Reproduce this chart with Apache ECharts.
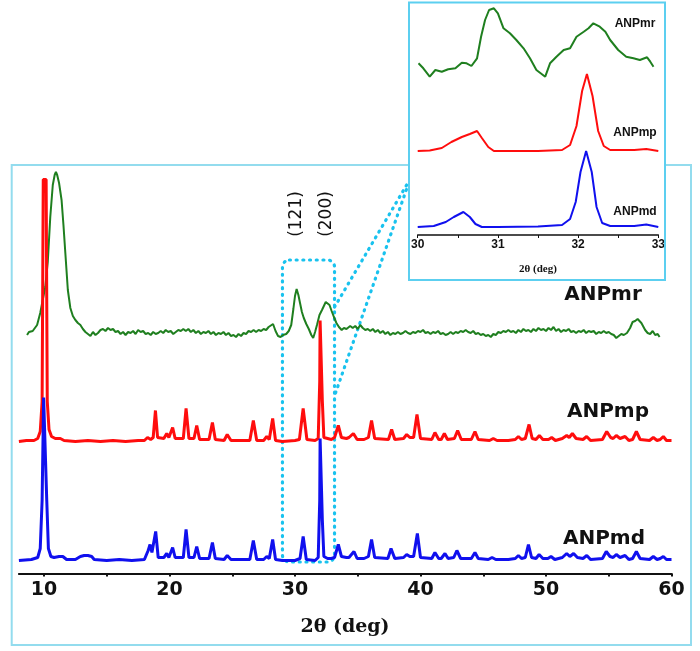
<!DOCTYPE html>
<html><head><meta charset="utf-8">
<script src="https://cdn.jsdelivr.net/npm/echarts@6/dist/echarts.min.js"></script>
<style>html,body{margin:0;padding:0;background:#fff}#c{width:700px;height:651px}</style>
</head><body><div id="c"></div>
<script>
// ---------- data (2θ in degrees, intensity in arbitrary offset units) ----------
const mainTickValues = [10,15,20,25,30,35,40,45,50,55,60];
const mainLabelValues = [10,20,30,40,50,60];
const insetTickValues = [30,30.5,31,31.5,32,32.5,33];
const insetLabelValues = [30,31,32,33];
const seriesNames = ['ANPmr','ANPmp','ANPmd'];
const mainOffsets = [240.5, 132, 13];
const insetOffsets = [0, 84, 8];

const mainMr = [[8.65,-2],[8.8,1],[8.95,-1],[9.1,2],[9.25,1],[9.45,8],[9.7,20],[9.9,33],[10.1,46],[10.3,71],[10.5,116],[10.7,148],[10.85,158],[10.95,161],[11.05,158],[11.2,150],[11.4,133],[11.55,108],[11.7,80],[11.9,43],[12.1,25],[12.3,17],[12.5,13],[12.7,10],[12.9,8],[13.1,4],[13.3,1],[13.5,-1],[13.7,-3],[13.9,1],[14.1,-2],[14.3,0],[14.5,3],[14.7,4],[14.9,2],[15.1,5],[15.3,3],[15.5,4],[15.7,1],[15.9,2],[16.1,-1],[16.3,1],[16.5,-2],[16.7,1],[16.9,0],[17.1,2],[17.3,-1],[17.5,3],[17.7,1],[17.9,2],[18.1,-1],[18.3,0],[18.5,-2],[18.7,1],[18.9,-1],[19.1,0],[19.3,2],[19.5,0],[19.7,3],[19.9,1],[20.1,2],[20.3,-1],[20.5,1],[20.7,3],[20.9,2],[21.1,4],[21.3,2],[21.5,4],[21.7,1],[21.9,3],[22.1,0],[22.3,2],[22.5,-1],[22.7,1],[22.9,0],[23.1,2],[23.3,-1],[23.5,1],[23.7,-2],[23.9,0],[24.1,-1],[24.3,1],[24.5,-2],[24.7,0],[24.9,-3],[25.1,-2],[25.3,-4],[25.5,-1],[25.7,-3],[25.9,0],[26.1,-1],[26.3,2],[26.5,1],[26.7,3],[26.9,1],[27.1,3],[27.3,2],[27.5,4],[27.7,3],[27.9,6],[28.05,4],[28.25,9],[28.45,2],[28.65,-3],[28.85,-4],[29.05,-2],[29.3,-1],[29.5,2],[29.7,8],[29.87,24],[30.0,37],[30.13,44],[30.27,38],[30.4,30],[30.55,21],[30.7,15],[30.9,9],[31.1,4],[31.3,-2],[31.45,-5],[31.6,1],[31.75,8],[31.95,18],[32.15,23],[32.3,27],[32.45,31],[32.6,33],[32.75,28],[32.92,22],[33.1,16],[33.3,10],[33.5,6],[33.72,3],[33.9,5],[34.1,4],[34.4,7],[34.6,5],[34.8,7],[35.0,4],[35.2,8],[35.4,5],[35.6,3],[35.8,4],[36.0,2],[36.2,4],[36.4,1],[36.6,3],[36.8,0],[37.0,2],[37.2,-1],[37.4,1],[37.6,-2],[37.8,0],[38.0,-1],[38.2,1],[38.4,-1],[38.6,0],[38.8,2],[39.0,0],[39.2,-1],[39.4,1],[39.6,0],[39.8,2],[40.0,1],[40.2,3],[40.4,0],[40.6,1],[40.8,-1],[41.0,1],[41.2,0],[41.4,2],[41.6,-1],[41.8,0],[42.0,-2],[42.2,-1],[42.4,1],[42.6,-1],[42.8,1],[43.0,0],[43.2,2],[43.4,1],[43.6,3],[43.8,1],[44.0,0],[44.2,2],[44.4,-1],[44.6,0],[44.8,-2],[45.0,-1],[45.2,-3],[45.4,-2],[45.6,-4],[45.8,-1],[46.0,-2],[46.2,1],[46.4,0],[46.6,2],[46.8,1],[47.0,3],[47.2,1],[47.4,2],[47.6,0],[47.8,3],[48.0,1],[48.2,4],[48.4,2],[48.6,3],[48.8,1],[49.0,4],[49.2,2],[49.4,5],[49.6,3],[49.8,4],[50.0,2],[50.2,5],[50.4,3],[50.6,6],[50.8,2],[51.0,4],[51.2,1],[51.4,3],[51.6,2],[51.8,4],[52.0,1],[52.2,2],[52.4,0],[52.6,2],[52.8,1],[53.0,3],[53.2,0],[53.4,2],[53.6,1],[53.8,2],[54.0,-1],[54.2,1],[54.4,0],[54.6,2],[54.8,0],[55.0,1],[55.2,-1],[55.4,-2],[55.6,-5],[55.8,-3],[56.0,-1],[56.2,-2],[56.45,0],[56.7,5],[56.9,11],[57.1,12],[57.3,14],[57.45,13],[57.6,10],[57.75,9],[57.9,3],[58.1,0],[58.3,-1],[58.5,2],[58.7,-2],[58.9,-1],[59.05,-4]];

const mainMp = [[8.0,0],[8.6,1],[9.2,1],[9.5,3],[9.7,10],[9.85,40],[9.94,262],[10.17,262],[10.26,40],[10.4,12],[10.6,5],[10.9,3],[11.3,3],[11.6,1],[12.5,0],[13.5,1],[14.5,0],[15.5,1],[16.5,0],[17.5,1],[18.0,1],[18.25,4],[18.5,2],[18.7,4],[18.88,31],[19.05,4],[19.55,3],[19.78,8],[19.95,4],[20.25,14],[20.45,3],[21.1,3],[21.32,33],[21.55,3],[21.95,3],[22.17,16],[22.4,2],[23.15,2],[23.42,19],[23.65,2],[24.35,1],[24.6,7],[24.9,1],[26.4,1],[26.68,21],[26.95,1],[27.5,1],[27.75,5],[27.95,2],[28.22,23],[28.45,1],[29,0],[30.0,1],[30.35,2],[30.65,33],[30.95,2],[31.6,1],[31.85,3],[31.97,60],[32.0,121],[32.12,121],[32.18,40],[32.3,4],[32.6,3],[32.9,2],[33.15,4],[33.45,16],[33.7,4],[34.1,3],[34.3,4],[34.65,8],[34.95,2],[35.5,2],[35.85,4],[36.1,21],[36.35,3],[37.45,2],[37.7,12],[37.95,2],[38.65,3],[38.9,7],[39.15,4],[39.45,4],[39.72,27],[40.0,3],[40.9,2],[41.15,9],[41.45,2],[41.65,2],[41.9,8],[42.15,2],[42.7,3],[42.96,11],[43.25,2],[44.05,2],[44.34,10],[44.6,2],[45.5,1],[45.8,3],[46.1,1],[47.0,1],[47.55,2],[47.8,5],[48.05,2],[48.35,3],[48.65,17],[48.9,3],[49.2,2],[49.47,6],[49.75,2],[50.2,2],[50.45,4],[50.75,1],[51.3,3],[51.65,6],[51.85,4],[52.1,8],[52.4,3],[52.95,2],[53.24,5],[53.55,1],[54.5,2],[54.84,10],[55.15,4],[55.35,3],[55.6,6],[55.9,3],[56.3,5],[56.6,1],[56.9,2],[57.2,10],[57.5,2],[58.25,1],[58.55,4],[58.85,1],[59.1,2],[59.35,5],[59.6,1],[60,1]];

const mainMd = [[8.0,0],[9.0,1],[9.5,3],[9.7,12],[9.85,60],[9.97,163],[10.12,163],[10.22,60],[10.35,12],[10.55,4],[10.8,3],[11.2,4],[11.5,4],[11.8,1],[12.5,1],[12.9,4],[13.2,5],[13.5,5],[13.8,4],[14.0,1],[15,0],[16,1],[17,0],[18.0,1],[18.3,10],[18.45,16],[18.6,8],[18.9,29],[19.1,3],[19.55,3],[19.78,7],[19.95,3],[20.25,13],[20.45,3],[21.1,3],[21.32,31],[21.55,3],[21.95,3],[22.17,14],[22.4,2],[23.15,2],[23.42,18],[23.65,2],[24.35,1],[24.6,5],[24.9,1],[26.4,1],[26.68,20],[26.95,1],[27.5,1],[27.75,4],[27.95,2],[28.22,21],[28.45,1],[29,0],[30.0,0],[30.4,2],[30.65,24],[30.9,1],[31.6,0],[31.85,3],[31.97,60],[32.0,122],[32.12,122],[32.18,40],[32.3,4],[32.6,2],[32.9,2],[33.15,3],[33.45,16],[33.7,4],[34.1,3],[34.3,3],[34.7,9],[34.95,2],[35.5,2],[35.85,4],[36.1,21],[36.35,3],[37.4,2],[37.65,12],[37.95,2],[38.65,3],[38.9,6],[39.15,4],[39.45,4],[39.75,27],[40.0,3],[40.9,2],[41.15,8],[41.45,2],[41.65,2],[41.95,7],[42.2,2],[42.65,3],[42.9,10],[43.2,2],[44.05,2],[44.34,8],[44.6,2],[45.4,1],[45.7,3],[46.0,1],[47.0,1],[47.55,2],[47.8,5],[48.05,2],[48.35,3],[48.6,16],[48.85,3],[49.2,2],[49.45,6],[49.75,2],[50.15,2],[50.4,4],[50.7,1],[51.3,3],[51.65,7],[51.9,4],[52.2,7],[52.5,3],[52.95,2],[53.25,5],[53.55,1],[54.5,2],[54.8,9],[55.1,4],[55.35,3],[55.6,6],[55.9,3],[56.3,5],[56.6,1],[56.9,2],[57.2,9],[57.5,2],[58.25,1],[58.55,4],[58.85,1],[59.1,2],[59.35,4],[59.6,1],[60,1]];

const insetMr = [[30.01,171.7],[30.07,166.7],[30.15,158.3],[30.22,165],[30.3,163.3],[30.38,165.7],[30.47,166.7],[30.55,172.3],[30.61,171.7],[30.67,169],[30.74,176.7],[30.79,198.3],[30.84,215],[30.89,225],[30.95,226.7],[31.0,221.7],[31.07,206.7],[31.15,201.7],[31.23,195],[31.32,186.7],[31.4,176.7],[31.48,165],[31.59,158.3],[31.65,171.7],[31.73,178.3],[31.82,185],[31.9,186.7],[31.98,198.3],[32.07,203.3],[32.13,206.7],[32.19,211.7],[32.27,208.3],[32.34,203.3],[32.4,195],[32.5,185],[32.6,178.3],[32.69,176.7],[32.77,175],[32.86,177.7],[32.9,173.3],[32.94,168.3]];
const insetMp = [[30.0,0],[30.15,0.5],[30.3,3],[30.42,9],[30.55,14],[30.65,17],[30.74,20],[30.8,13],[30.88,4],[30.95,0],[31.5,0],[31.8,1],[31.9,6],[31.98,25],[32.05,60],[32.11,77],[32.18,55],[32.25,20],[32.32,5],[32.4,1],[32.7,1],[32.85,2],[33.0,0]];
const insetMd = [[30.0,0],[30.2,1],[30.35,5],[30.45,10],[30.57,15],[30.65,10],[30.72,3],[30.8,0],[31.0,0],[31.5,0.5],[31.8,2],[31.9,8],[31.97,25],[32.03,55],[32.1,76],[32.17,55],[32.23,20],[32.3,4],[32.4,1],[32.7,1],[32.85,2.5],[33.0,0]];

const zoomRange = [29.0, 33.15];   // dotted region (2θ)
const zoomYRange = [11.5, 313.5];

// ---------- chart ----------
const colors = ['#1f7f1f', '#ff0d0d', '#1010ee'];
const shift = (arr, off) => arr.map(p => [p[0], p[1] + off]);
const mainData = [mainMr, mainMp, mainMd];
const insetData = [insetMr, insetMp, insetMd];

const chart = echarts.init(document.getElementById('c'), null, {renderer: 'canvas'});
const series = [];
mainData.forEach((d, i) => series.push({
  type: 'line', xAxisIndex: 0, yAxisIndex: 0, name: seriesNames[i],
  data: shift(d, mainOffsets[i]), symbol: 'none', smooth: false,
  lineStyle: {color: colors[i], width: i === 0 ? 2 : 3}, z: 3 + i
}));
insetData.forEach((d, i) => series.push({
  type: 'line', xAxisIndex: 1, yAxisIndex: 1, name: seriesNames[i] + '_inset',
  data: shift(d, insetOffsets[i]), symbol: 'none', smooth: false,
  lineStyle: {color: colors[i], width: 2}, z: 3 + i
}));

chart.setOption({
  animation: false,
  backgroundColor: '#fff',
  grid: [
    {left: 18.9, right: 28.5, top: 165, bottom: 77.5},
    {left: 417.7, right: 41.7, top: 3, bottom: 416}
  ],
  xAxis: [
    {type: 'value', gridIndex: 0, min: 8, max: 60,
     axisLine: {lineStyle: {color: '#111', width: 2}},
     axisTick: {show: true, inside: false, length: 3, customValues: mainTickValues, lineStyle: {color: '#111', width: 2}},
     axisLabel: {customValues: mainLabelValues, margin: 7, color: '#111',
       fontFamily: 'DejaVu Sans', fontWeight: 'bold', fontSize: 19},
     splitLine: {show: false}},
    {type: 'value', gridIndex: 1, min: 30, max: 33,
     axisLine: {lineStyle: {color: '#111', width: 1.5}},
     axisTick: {show: true, inside: false, length: 3, customValues: insetTickValues, lineStyle: {color: '#111', width: 1}},
     axisLabel: {customValues: insetLabelValues, margin: 4, color: '#111',
       fontFamily: 'Liberation Sans Narrow, Liberation Sans', fontWeight: 'bold', fontSize: 12},
     splitLine: {show: false}}
  ],
  yAxis: [
    {type: 'value', gridIndex: 0, min: 0, max: 408.5, show: false},
    {type: 'value', gridIndex: 1, min: 0, max: 232, show: false}
  ],
  series: series
});

// ---------- annotations ----------
const p0 = chart.convertToPixel({gridIndex: 0}, [zoomRange[0], zoomYRange[1]]);
const p1 = chart.convertToPixel({gridIndex: 0}, [zoomRange[1], zoomYRange[0]]);
const cyanDot = '#19c2ee';
const dotStyle = {stroke: cyanDot, lineWidth: 3.2, lineDash: [1, 5.7], lineCap: 'round', fill: null};
const txt = (x, y, text, font, extra) => Object.assign({
  type: 'text', x: x, y: y, z: 10,
  style: {text: text, font: font, fill: '#111', align: 'center', verticalAlign: 'middle'}
}, extra || {});

chart.setOption({
  graphic: [
    {type: 'polyline', z: 1, shape: {points: [[409,165],[11.7,165],[11.7,645],[691,645],[691,165],[665,165]]},
     style: {stroke: '#93dcee', lineWidth: 2, fill: null}},
    {type: 'rect', z: 1, shape: {x: 409, y: 2.5, width: 256, height: 277.5},
     style: {stroke: '#5ccff0', lineWidth: 2, fill: null}},
    {type: 'rect', z: 1, shape: {x: p0[0], y: p0[1], width: p1[0] - p0[0], height: p1[1] - p0[1], r: 7},
     style: Object.assign({}, dotStyle)},
    {type: 'line', z: 1, shape: {x1: p1[0], y1: 307, x2: 409, y2: 181}, style: Object.assign({}, dotStyle)},
    {type: 'line', z: 1, shape: {x1: p1[0] + 1, y1: 393, x2: 408, y2: 185}, style: Object.assign({}, dotStyle)},
    txt(603, 295, 'ANPmr', 'bold 20px "DejaVu Sans"'),
    txt(608, 412, 'ANPmp', 'bold 20px "DejaVu Sans"'),
    txt(604, 539, 'ANPmd', 'bold 20px "DejaVu Sans"'),
    txt(296.7, 214, '(121)', '17px "DejaVu Sans"', {rotation: Math.PI / 2}),
    txt(326.7, 214, '(200)', '17px "DejaVu Sans"', {rotation: Math.PI / 2}),
    txt(345, 627, '2θ (deg)', 'bold 19px "DejaVu Serif"'),
    txt(635, 24, 'ANPmr', 'bold 12px "Liberation Sans Narrow", "Liberation Sans"'),
    txt(635, 133, 'ANPmp', 'bold 12px "Liberation Sans Narrow", "Liberation Sans"'),
    txt(635, 212, 'ANPmd', 'bold 12px "Liberation Sans Narrow", "Liberation Sans"'),
    txt(538, 269, '2θ (deg)', 'bold 11px "Liberation Serif"')
  ]
});
</script></body></html>
